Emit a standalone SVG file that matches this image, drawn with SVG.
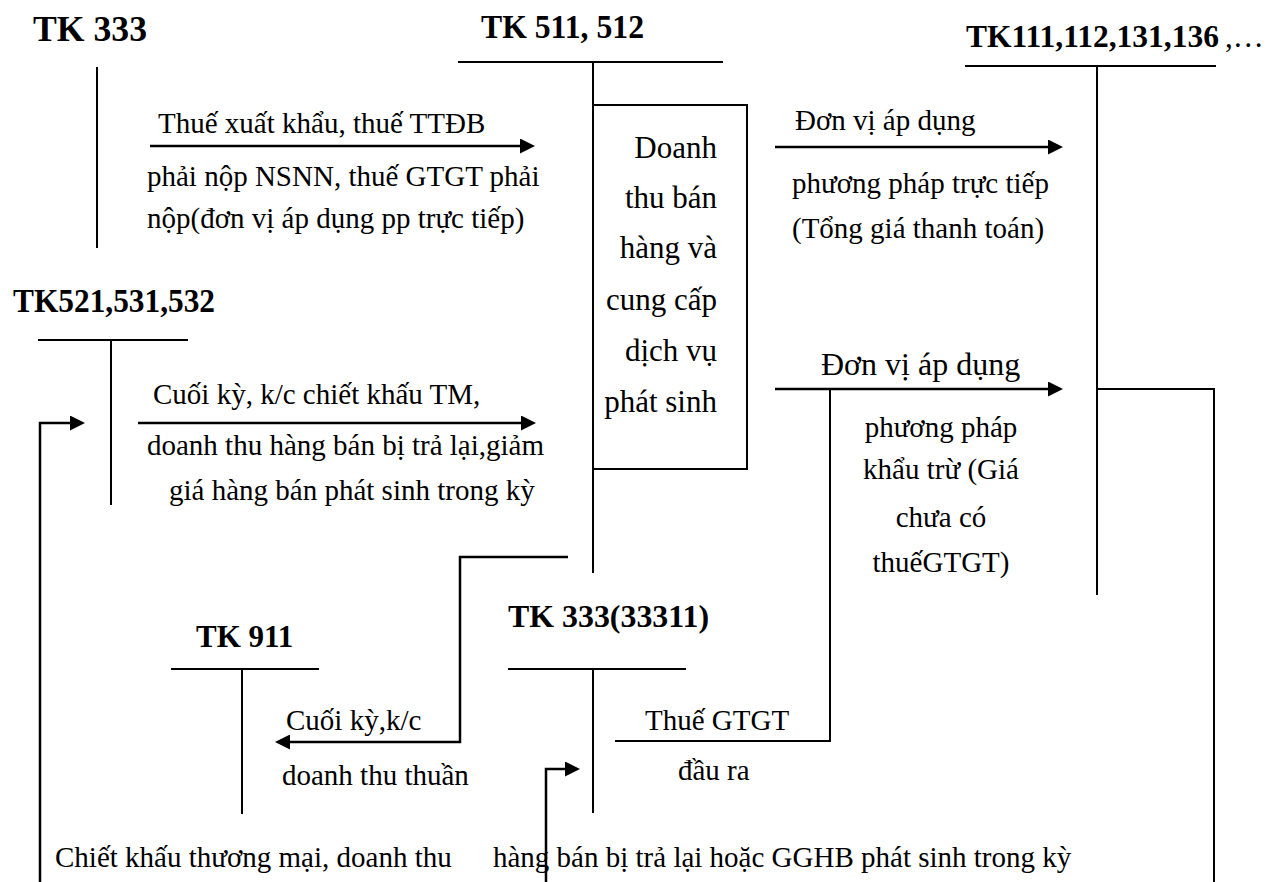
<svg xmlns="http://www.w3.org/2000/svg" width="1272" height="882" viewBox="0 0 1272 882">
<style>
text{font-family:"Liberation Serif","Times New Roman",serif;fill:#000}
.t{font-size:29px}
.b{font-size:32px;font-weight:bold}
.big{font-size:31px}
.ln{stroke:#000;stroke-width:2;fill:none}
.ar{stroke:#000;stroke-width:2.5;fill:none;marker-end:url(#ah)}
.cn{stroke:#000;stroke-width:2;fill:none}
</style>
<defs>
<marker id="ah" markerUnits="userSpaceOnUse" markerWidth="15" markerHeight="15" refX="3" refY="7.5" orient="auto">
<path d="M0,0 L15,7.5 L0,15 z" fill="#000"/>
</marker>
</defs>
<rect width="1272" height="882" fill="#fff"/>

<g id="tk333">
<text class="b" x="33" y="41" style="font-size:36px" textLength="114" lengthAdjust="spacingAndGlyphs">TK 333</text>
<line class="ln" x1="97" y1="67" x2="97" y2="248"/>
</g>

<g id="tk511">
<text class="b" x="481" y="38" style="font-size:34px" textLength="163" lengthAdjust="spacingAndGlyphs">TK 511, 512</text>
<line class="ln" x1="458" y1="62" x2="723" y2="62"/>
<line class="ln" x1="593" y1="62" x2="593" y2="105"/>
<line class="ln" x1="593" y1="469" x2="593" y2="573"/>
<rect class="ln" x="593" y="105" width="154" height="364"/>
<g class="big" text-anchor="end">
<text x="717" y="158">Doanh</text>
<text x="717" y="208">thu bán</text>
<text x="717" y="258">hàng và</text>
<text x="717" y="310">cung cấp</text>
<text x="717" y="361">dịch vụ</text>
<text x="717" y="412">phát sinh</text>
</g>
</g>

<g id="tk111">
<text class="b" x="966" y="47" style="font-size:31.5px">TK111,112,131,136</text>
<text x="1225" y="47" style="font-size:31px">,…</text>
<line class="ln" x1="965" y1="66" x2="1216" y2="66"/>
<line class="ln" x1="1097" y1="66" x2="1097" y2="595"/>
</g>

<g id="tk521">
<text class="b" x="13" y="312" style="font-size:33px" textLength="202" lengthAdjust="spacingAndGlyphs">TK521,531,532</text>
<line class="ln" x1="38" y1="340" x2="188" y2="340"/>
<line class="ln" x1="111" y1="340" x2="111" y2="505"/>
</g>

<g id="tk911">
<text class="b" x="196" y="647" style="font-size:31px">TK 911</text>
<line class="ln" x1="171" y1="669" x2="319" y2="669"/>
<line class="ln" x1="242" y1="669" x2="242" y2="814"/>
</g>

<g id="tk33311">
<text class="b" x="508" y="627" style="font-size:31px" textLength="201" lengthAdjust="spacingAndGlyphs">TK 333(33311)</text>
<line class="ln" x1="508" y1="669" x2="686" y2="669"/>
<line class="ln" x1="593" y1="669" x2="593" y2="813"/>
</g>

<g id="connectors">
<path class="ar" d="M150,146 H523"/>
<path class="ar" d="M775,147 H1051"/>
<path class="ar" d="M138,423 H524"/>
<path class="ar" d="M775,389 H1051"/>
<path class="cn" d="M830,389 V741 H615"/>
<path class="cn" d="M1097,389 H1214 V882"/>
<path class="ar" d="M568,557 H460 V742 H287"/>
<path class="ar" d="M40,882 V423 H73"/>
<path class="ar" d="M546,882 V769 H568"/>
</g>

<g id="labels" class="t">
<text x="158" y="133">Thuế xuất khẩu, thuế TTĐB</text>
<text x="147" y="186">phải nộp NSNN, thuế GTGT phải</text>
<text x="147" y="228">nộp(đơn vị áp dụng pp trực tiếp)</text>
<text x="795" y="130">Đơn vị áp dụng</text>
<text x="792" y="193">phương pháp trực tiếp</text>
<text x="792" y="238">(Tổng giá thanh toán)</text>
<text x="153" y="404">Cuối kỳ, k/c chiết khấu TM,</text>
<text x="147" y="455">doanh thu hàng bán bị trả lại,giảm</text>
<text x="169" y="500">giá hàng bán phát sinh trong kỳ</text>
<text x="821" y="375" style="font-size:32px">Đơn vị áp dụng</text>
<g text-anchor="middle">
<text x="941" y="437">phương pháp</text>
<text x="941" y="479">khẩu trừ (Giá</text>
<text x="941" y="527">chưa có</text>
<text x="941" y="572">thuếGTGT)</text>
</g>
<text x="286" y="730">Cuối kỳ,k/c</text>
<text x="282" y="785">doanh thu thuần</text>
<text x="645" y="730">Thuế GTGT</text>
<text x="678" y="780">đầu ra</text>
<text x="55" y="867">Chiết khấu thương mại, doanh thu</text>
<text x="493" y="867">hàng bán bị trả lại hoặc GGHB phát sinh trong kỳ</text>
</g>
</svg>
